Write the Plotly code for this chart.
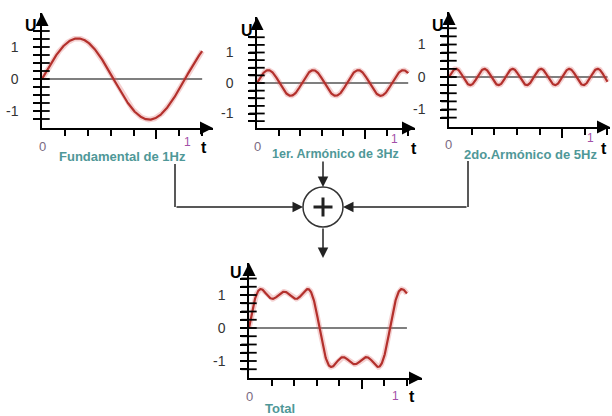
import numpy as np
import plotly.graph_objects as go

# harmonics (square wave built from its first odd terms)
FREQS = [1, 3, 5]
AMPS = [1.27, 0.42, 0.25]
T_END = 1.12
TITLES = ["Fundamental de 1Hz", "1er. Armónico de 3Hz", "2do.Armónico de 5Hz", "Total"]
Y_TICKS = [-1.25, -1, -0.75, -0.5, -0.25, 0, 0.25, 0.5, 0.75, 1, 1.25, 1.5]
Y_LABELS = ["", "-1", "", "", "", "0", "", "", "", "1", "", ""]
X_TICKS = [0.16, 0.32, 0.48, 0.64, 0.96, 1.12]
X_LONG_TICK = [0.8]

W, H = 612, 416
FONT = "Liberation Sans, Arial, sans-serif"
RED = "#b3302c"
TEAL = "#4f9898"
PURPLE = "#a24fa8"
PAD = "\u00a0" * 3  # pushes y tick labels away from the axis

# panel geometry in pixels: y-axis x, arrow tip x, top, bottom, px per t, zero line y, px per U
PANELS = [
    dict(ax=42, right=213, top=13, bottom=128, sx=143, zero=79, sy=32, title_size=13,
         u=(31, 25), x0=(42, 146), x1=(187, 142), t=(204, 147), title=(122, 156)),
    dict(ax=257, right=415, top=17, bottom=128, sx=135, zero=83, sy=30.5, title_size=12.5,
         u=(247, 31), x0=(257, 146), x1=(394, 139), t=(414, 149), title=(335, 154)),
    dict(ax=449, right=610, top=12, bottom=127, sx=141.5, zero=77, sy=32.5, title_size=13,
         u=(438, 25), x0=(449, 144), x1=(590, 138), t=(604, 149), title=(530, 154)),
    dict(ax=249, right=422, top=263, bottom=378, sx=141, zero=328, sy=33, title_size=13,
         u=(236, 272), x0=(249, 396), x1=(395, 396), t=(412, 396), title=(280, 408)),
]


def px(x, y):
    return x / W, 1 - y / H


t = np.linspace(0, T_END, 500)
waves = [a * np.sin(2 * np.pi * f * t) for f, a in zip(FREQS, AMPS)]
waves.append(sum(waves))

fig = go.Figure()
annotations = []
shapes = []

for i, (p, u) in enumerate(zip(PANELS, waves)):
    k = "" if i == 0 else str(i + 1)
    xa, ya = "x" + k, "y" + k
    xr = [0, (p["right"] - p["ax"]) / p["sx"]]
    yr = [(p["zero"] - p["bottom"]) / p["sy"], (p["zero"] - p["top"]) / p["sy"]]

    # zero line
    fig.add_trace(go.Scatter(x=[0, T_END], y=[0, 0], mode="lines", xaxis=xa, yaxis=ya,
                             line=dict(color="#555555", width=1.5), hoverinfo="skip"))
    # soft halo + curve
    fig.add_trace(go.Scatter(x=t, y=u, mode="lines", xaxis=xa, yaxis=ya,
                             line=dict(color="rgba(215,90,90,0.28)", width=5.5), hoverinfo="skip"))
    fig.add_trace(go.Scatter(x=t, y=u, mode="lines", xaxis=xa, yaxis=ya,
                             line=dict(color=RED, width=2.2)))
    # tick comb on the U axis
    fig.add_trace(go.Scatter(x=[0] * len(Y_TICKS), y=Y_TICKS, mode="markers", xaxis=xa, yaxis=ya,
                             marker=dict(symbol="line-ew", size=11, color="black",
                                         line=dict(color="black", width=1.8)),
                             cliponaxis=False, hoverinfo="skip"))

    xd0, yd0 = px(p["ax"], p["bottom"])
    xd1, yd1 = px(p["right"], p["top"])
    fig.update_layout(**{
        "xaxis" + k: dict(domain=[xd0, xd1], range=xr, anchor=ya, showgrid=False, zeroline=False,
                          showline=True, linecolor="black", linewidth=2,
                          tickmode="array", tickvals=X_LONG_TICK, ticks="outside", ticklen=9,
                          tickwidth=1.8, tickcolor="black", showticklabels=False,
                          minor=dict(tickvals=X_TICKS, ticks="outside", ticklen=6,
                                     tickwidth=1.8, tickcolor="black"),
                          fixedrange=True),
        "yaxis" + k: dict(domain=[yd0, yd1], range=yr, anchor=xa, showgrid=False, zeroline=False,
                          showline=True, linecolor="black", linewidth=2,
                          tickmode="array", tickvals=Y_TICKS,
                          ticktext=[s + PAD if s else "" for s in Y_LABELS],
                          ticks="outside", ticklen=7, tickwidth=1.8, tickcolor="black",
                          tickfont=dict(size=14, color="#333333", family=FONT),
                          fixedrange=True),
    })

    # axis arrowheads
    annotations.append(dict(x=xr[1], y=yr[0], xref=xa, yref=ya, ax=-9, ay=0, text="",
                            showarrow=True, arrowhead=2, arrowsize=1.3, arrowwidth=2,
                            arrowcolor="black"))
    annotations.append(dict(x=0, y=yr[1], xref=xa, yref=ya, ax=0, ay=9, text="",
                            showarrow=True, arrowhead=2, arrowsize=1.3, arrowwidth=2,
                            arrowcolor="black"))

    labels = [
        (p["u"], "<b>U</b>", 16, "black"),
        (p["x0"], "0", 13, "#7a6a82"),
        (p["x1"], "1", 12, PURPLE),
        (p["t"], "<b>t</b>", 16, "black"),
        (p["title"], "<b>" + TITLES[i] + "</b>", p["title_size"], TEAL),
    ]
    for (lx, ly), txt, size, col in labels:
        x, y = px(lx, ly)
        annotations.append(dict(x=x, y=y, xref="paper", yref="paper", text=txt, showarrow=False,
                                xanchor="center", yanchor="middle",
                                font=dict(size=size, color=col, family=FONT)))

# summing junction and connectors
LINE = dict(color="#333333", width=1.5)
cx, cy, r = 323, 207, 20


def seg(x0, y0, x1, y1, width=1.5):
    a, b = px(x0, y0)
    c, d = px(x1, y1)
    shapes.append(dict(type="line", xref="paper", yref="paper", x0=a, y0=b, x1=c, y1=d,
                       line=dict(color="#222222", width=width)))


seg(175, 164, 175, cy)
seg(468, 161, 468, cy)
a, b = px(cx - r, cy + r)
c, d = px(cx + r, cy - r)
shapes.append(dict(type="circle", xref="paper", yref="paper", x0=a, y0=b, x1=c, y1=d,
                   line=LINE, fillcolor="white"))
seg(cx - 9.5, cy, cx + 9.5, cy, 3)
seg(cx, cy - 9.5, cx, cy + 9.5, 3)


def arrow(x_tip, y_tip, dx, dy):
    x, y = px(x_tip, y_tip)
    annotations.append(dict(x=x, y=y, xref="paper", yref="paper", ax=dx, ay=dy, text="",
                            showarrow=True, arrowhead=2, arrowsize=1.4, arrowwidth=1.5,
                            arrowcolor="#222222"))


arrow(cx - r, cy, 175 - (cx - r), 0)
arrow(cx + r, cy, 468 - (cx + r), 0)
arrow(cx, cy - r, 0, 160 - (cy - r))
arrow(cx, 258, 0, (cy + r) - 258)

fig.update_layout(
    width=W, height=H,
    margin=dict(l=0, r=0, t=0, b=0),
    paper_bgcolor="white", plot_bgcolor="white",
    showlegend=False,
    font=dict(family=FONT),
    annotations=annotations,
    shapes=shapes,
)

# drop the browser's default body margin so the figure sits at the page corner
fig.write_html("out.html", config={"displayModeBar": False},
               post_script="document.body.style.margin='0';")
